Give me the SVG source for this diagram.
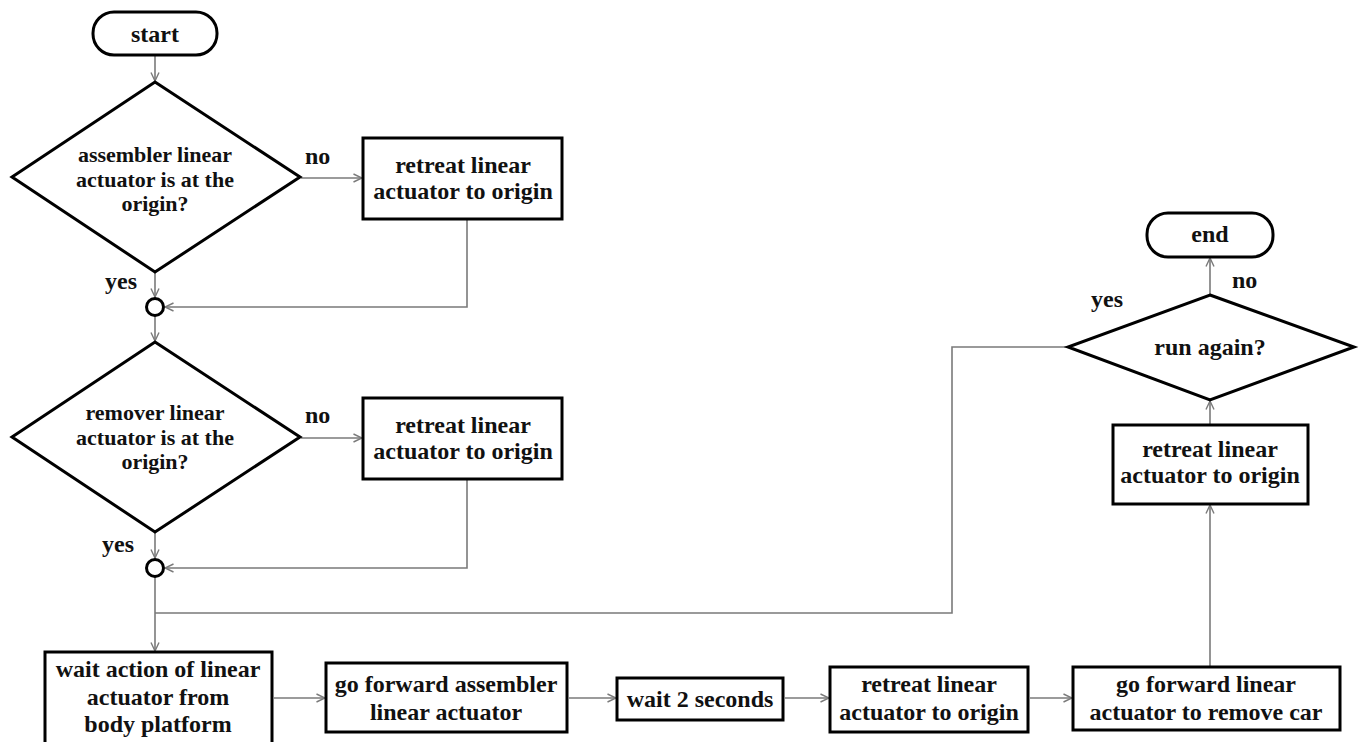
<svg xmlns="http://www.w3.org/2000/svg" width="1359" height="742" viewBox="0 0 1359 742">
<style>
.shape{fill:#fff;stroke:#000;stroke-width:3}
.conn{fill:none;stroke:#7a7a7a;stroke-width:1.6}
text{font-family:"Liberation Serif","Times New Roman",serif;font-weight:bold;font-size:24px;fill:#111;text-anchor:middle}
.lbl{text-anchor:start}
.dq{font-size:22px}
</style>
<defs>
<marker id="arr" viewBox="0 0 10 10" refX="9.5" refY="5" markerWidth="10" markerHeight="10" markerUnits="userSpaceOnUse" orient="auto">
<path d="M1,1 L9.5,5 L1,9" fill="none" stroke="#7a7a7a" stroke-width="1.4"/>
</marker>
</defs>
<rect width="1359" height="742" fill="#fff"/>
<g id="connectors">
<line class="conn" x1="155" y1="56" x2="155" y2="81" marker-end="url(#arr)"/>
<line class="conn" x1="301" y1="178" x2="362" y2="178" marker-end="url(#arr)"/>
<line class="conn" x1="155" y1="273" x2="155" y2="297" marker-end="url(#arr)"/>
<polyline class="conn" points="467,220 467,307 165,307" marker-end="url(#arr)"/>
<line class="conn" x1="155" y1="316" x2="155" y2="341" marker-end="url(#arr)"/>
<line class="conn" x1="301" y1="438" x2="362" y2="438" marker-end="url(#arr)"/>
<line class="conn" x1="155" y1="533" x2="155" y2="558" marker-end="url(#arr)"/>
<polyline class="conn" points="467,480 467,568 165,568" marker-end="url(#arr)"/>
<line class="conn" x1="155" y1="577" x2="155" y2="651" marker-end="url(#arr)"/>
<polyline class="conn" points="1067,347 952,347 952,613 155,613"/>
<line class="conn" x1="274" y1="698" x2="325" y2="698" marker-end="url(#arr)"/>
<line class="conn" x1="569" y1="698" x2="616" y2="698" marker-end="url(#arr)"/>
<line class="conn" x1="785" y1="698" x2="829" y2="698" marker-end="url(#arr)"/>
<line class="conn" x1="1030" y1="698" x2="1072" y2="698" marker-end="url(#arr)"/>
<line class="conn" x1="1210" y1="666" x2="1210" y2="505" marker-end="url(#arr)"/>
<line class="conn" x1="1210" y1="424" x2="1210" y2="401" marker-end="url(#arr)"/>
<line class="conn" x1="1210" y1="294" x2="1210" y2="258" marker-end="url(#arr)"/>
<text class="lbl" x="305" y="164">no</text>
<text class="lbl" x="105" y="289">yes</text>
<text class="lbl" x="305" y="423">no</text>
<text class="lbl" x="102" y="552">yes</text>
<text class="lbl" x="1232" y="288">no</text>
<text class="lbl" x="1091" y="307">yes</text>
</g>
<g id="start">
<rect class="shape" x="93" y="12" width="124" height="43" rx="21"/>
<text x="155" y="42">start</text>
</g>
<g id="decision1">
<polygon class="shape" points="155,82 300,177 155,272 12,177"/>
<text class="dq" x="155" y="162">assembler linear</text>
<text class="dq" x="155" y="186.5">actuator is at the</text>
<text class="dq" x="155" y="211">origin?</text>
</g>
<g id="retreat1">
<rect class="shape" x="363" y="138" width="199" height="81"/>
<text x="463" y="173">retreat linear</text>
<text x="463" y="199">actuator to origin</text>
</g>
<g id="merge1">
<circle class="shape" cx="155" cy="307" r="8.5" stroke-width="2.5"/>
</g>
<g id="decision2">
<polygon class="shape" points="155,342 300,437 155,532 12,437"/>
<text class="dq" x="155" y="420">remover linear</text>
<text class="dq" x="155" y="444.5">actuator is at the</text>
<text class="dq" x="155" y="469">origin?</text>
</g>
<g id="retreat2">
<rect class="shape" x="363" y="398" width="199" height="81"/>
<text x="463" y="433">retreat linear</text>
<text x="463" y="459">actuator to origin</text>
</g>
<g id="merge2">
<circle class="shape" cx="155" cy="568" r="8.5" stroke-width="2.5"/>
</g>
<g id="wait-action">
<rect class="shape" x="45" y="652" width="227" height="95"/>
<text x="158" y="677">wait action of linear</text>
<text x="158" y="705">actuator from</text>
<text x="158" y="732">body platform</text>
</g>
<g id="go-forward-assembler">
<rect class="shape" x="326" y="663" width="241" height="69"/>
<text x="446" y="692">go forward assembler</text>
<text x="446" y="720">linear actuator</text>
</g>
<g id="wait-2">
<rect class="shape" x="617" y="678" width="166" height="42"/>
<text x="700" y="707">wait 2 seconds</text>
</g>
<g id="retreat3">
<rect class="shape" x="830" y="667" width="198" height="65"/>
<text x="929" y="692">retreat linear</text>
<text x="929" y="720">actuator to origin</text>
</g>
<g id="go-forward-remove">
<rect class="shape" x="1073" y="667" width="267" height="63"/>
<text x="1206" y="692">go forward linear</text>
<text x="1206" y="720">actuator to remove car</text>
</g>
<g id="retreat4">
<rect class="shape" x="1113" y="425" width="195" height="79"/>
<text x="1210" y="457">retreat linear</text>
<text x="1210" y="483">actuator to origin</text>
</g>
<g id="decision3">
<polygon class="shape" points="1210,295 1354,347 1210,400 1068,347"/>
<text x="1210" y="355">run again?</text>
</g>
<g id="end">
<rect class="shape" x="1147" y="213" width="126" height="44" rx="21"/>
<text x="1210" y="242">end</text>
</g>
</svg>
